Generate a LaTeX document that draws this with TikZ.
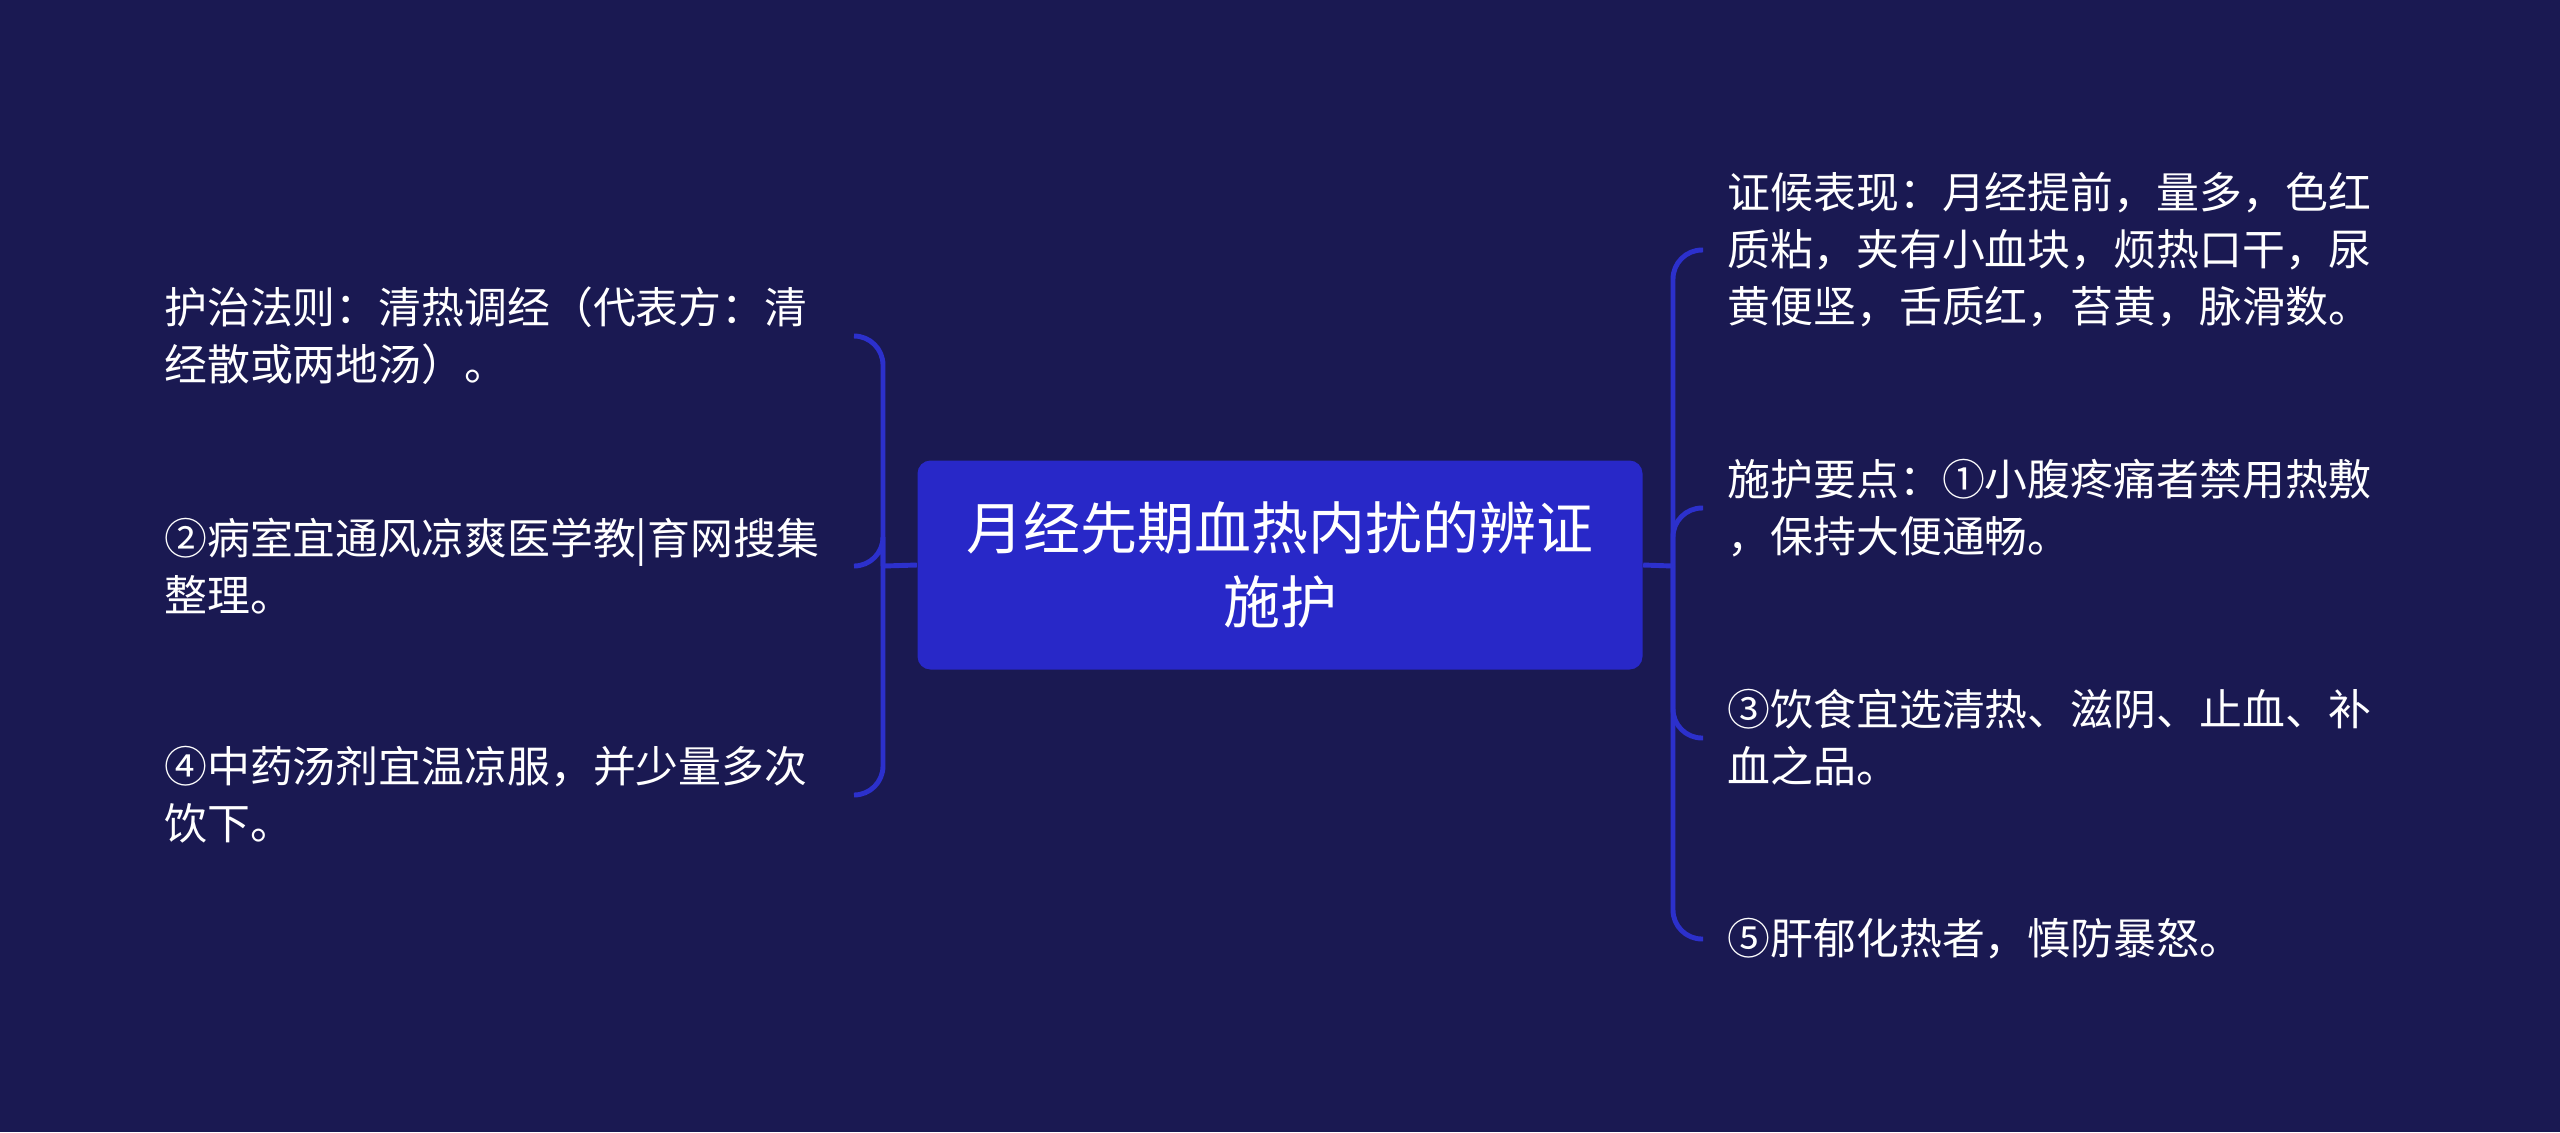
\documentclass[tikz,border=0pt]{standalone}
\usepackage{fontspec}
\newfontfamily\cjk{Noto Sans CJK SC}
\usetikzlibrary{positioning}
\definecolor{bgnavy}{RGB}{26,25,82}
\definecolor{rootblue}{RGB}{40,40,200}
\definecolor{linkblue}{RGB}{44,48,204}

\begin{document}
\begin{tikzpicture}[x=0.1mm, y=-0.1mm,
    rootbox/.style={fill=rootblue, rounded corners=1.3mm, minimum width=72.5mm, minimum height=20.9mm, align=center, text=white, font=\cjk\fontsize{16.2}{21}\selectfont},
    leafnode/.style={text=white, align=left, text width=66.5mm, inner xsep=2.4mm, inner ysep=0pt, font=\cjk\fontsize{12.2}{16.2}\selectfont},
    link/.style={draw=linkblue, line width=1.4pt, rounded corners=2.9mm}
]
    \fill[bgnavy] (0,0) rectangle (2560,1132);

    \node[rootbox] (root) at (1280,565) {月经先期血热内扰的辨证\\施护};

    \coordinate (lhub) at (883,566);
    \coordinate (rhub) at (1673,566);

    \node[leafnode, anchor=east] (l1) at (854,336) {护治法则：清热调经（代表方：清\\经散或两地汤）。};
    \node[leafnode, anchor=east] (l2) at (854,566) {②病室宜通风凉爽医学教|育网搜集\\整理。};
    \node[leafnode, anchor=east] (l3) at (854,795) {④中药汤剂宜温凉服，并少量多次\\饮下。};

    \node[leafnode, anchor=west] (r1) at (1703,250) {证候表现：月经提前，量多，色红\\质粘，夹有小血块，烦热口干，尿\\黄便坚，舌质红，苔黄，脉滑数。};
    \node[leafnode, anchor=west] (r2) at (1703,508) {施护要点：①小腹疼痛者禁用热敷\\，保持大便通畅。};
    \node[leafnode, anchor=west] (r3) at (1703,738) {③饮食宜选清热、滋阴、止血、补\\血之品。};
    \node[leafnode, anchor=west] (r4) at (1703,939) {⑤肝郁化热者，慎防暴怒。};

    \draw[link] (root.west) -- (lhub);
    \draw[link] (root.east) -- (rhub);
    \foreach \n in {l1,l2,l3}
        \draw[link] (lhub) |- (\n.east);
    \foreach \n in {r1,r2,r3,r4}
        \draw[link] (rhub) |- (\n.west);
\end{tikzpicture}
\end{document}
